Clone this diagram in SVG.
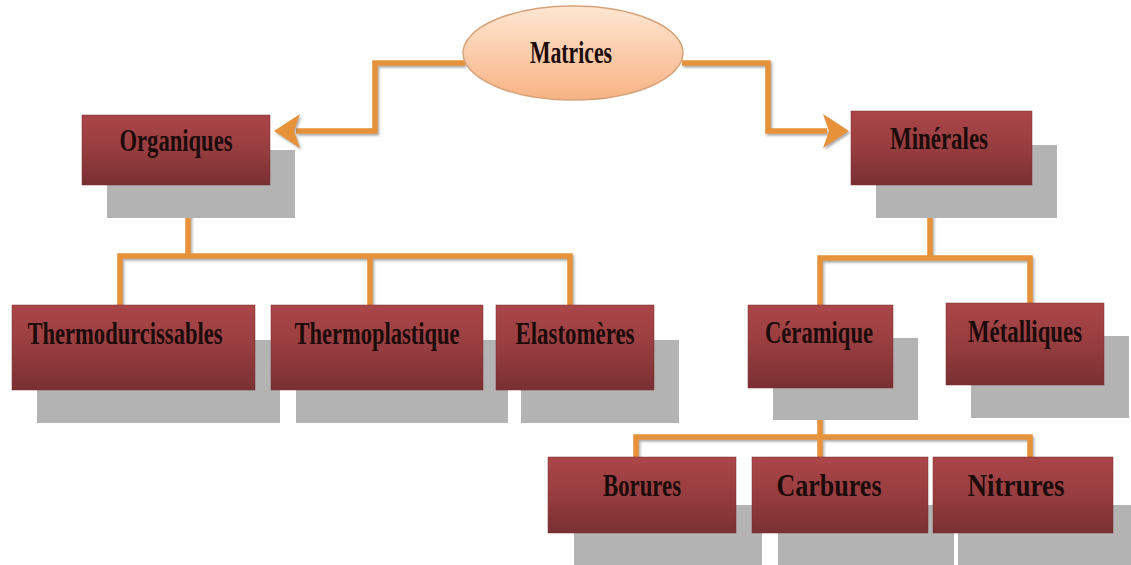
<svg xmlns="http://www.w3.org/2000/svg" width="1131" height="565" viewBox="0 0 1131 565">
<defs>
<linearGradient id="boxg" x1="0" y1="0" x2="0" y2="1">
<stop offset="0" stop-color="#ab4648"/>
<stop offset="0.5" stop-color="#973d3f"/>
<stop offset="1" stop-color="#793032"/>
</linearGradient>
<linearGradient id="ellg" x1="0" y1="0" x2="0" y2="1">
<stop offset="0" stop-color="#fee6d2"/>
<stop offset="1" stop-color="#f7b383"/>
</linearGradient>
<filter id="sh" x="-10%" y="-10%" width="130%" height="130%">
<feDropShadow dx="1.5" dy="2" stdDeviation="1" flood-color="#777" flood-opacity="0.6"/>
</filter>
</defs>
<style>
.box{fill:url(#boxg);stroke:#7a2e30;stroke-width:0.5}
.shadow{fill:#b3b3b3}
.lbl{font-family:"Liberation Serif","Times New Roman",serif;font-weight:bold;font-size:32px;fill:#1c0b0b;text-anchor:middle}
.con{fill:none;stroke:#e5923a;stroke-width:5.5;filter:url(#sh)}
.head{fill:#e5923a;filter:url(#sh)}
</style>
<rect width="1131" height="565" fill="#ffffff"/>

<g id="connectors">
<path class="con" d="M465,63 H375 V131 H296"/>
<path class="head" d="M274,131 L300,114 L294,131 L300,148 Z"/>
<path class="con" d="M682,63 H768 V131 H827"/>
<path class="head" d="M849,131 L823,114 L829,131 L823,148 Z"/>
<path class="con" d="M188,186 V256 M120,305 V256 H570 V305 M370,256 V305"/>
<path class="con" d="M930,186 V258 M820,305 V258 H1030 V305"/>
<path class="con" d="M820,389 V437 M636,458 V437 H1030 V458 M820,437 V458"/>
</g>

<g id="matrices">
<ellipse cx="573" cy="53" rx="110" ry="47" fill="url(#ellg)" stroke="#d6a27a" stroke-width="1.5"/>
<text class="lbl" x="571" y="63" textLength="82" lengthAdjust="spacingAndGlyphs">Matrices</text>
</g>

<g id="organiques">
<rect class="shadow" x="107" y="150" width="188" height="68"/>
<rect class="box" x="82" y="115" width="188" height="70"/>
<text class="lbl" x="176" y="151" textLength="113" lengthAdjust="spacingAndGlyphs">Organiques</text>
</g>

<g id="minerales">
<rect class="shadow" x="876" y="145" width="181" height="73"/>
<rect class="box" x="851" y="111" width="181" height="74"/>
<text class="lbl" x="939" y="149" textLength="98" lengthAdjust="spacingAndGlyphs">Minérales</text>
</g>

<g id="thermodurcissables">
<rect class="shadow" x="37" y="340" width="243" height="83"/>
<rect class="box" x="12" y="305" width="243" height="85"/>
<text class="lbl" x="125" y="344" textLength="195" lengthAdjust="spacingAndGlyphs">Thermodurcissables</text>
</g>

<g id="thermoplastique">
<rect class="shadow" x="296" y="340" width="212" height="83"/>
<rect class="box" x="271" y="305" width="212" height="85"/>
<text class="lbl" x="377" y="344" textLength="165" lengthAdjust="spacingAndGlyphs">Thermoplastique</text>
</g>

<g id="elastomeres">
<rect class="shadow" x="521" y="340" width="158" height="83"/>
<rect class="box" x="496" y="305" width="158" height="85"/>
<text class="lbl" x="575" y="344" textLength="119" lengthAdjust="spacingAndGlyphs">Elastomères</text>
</g>

<g id="ceramique">
<rect class="shadow" x="773" y="338" width="145" height="82"/>
<rect class="box" x="748" y="305" width="145" height="83"/>
<text class="lbl" x="819" y="343" textLength="108" lengthAdjust="spacingAndGlyphs">Céramique</text>
</g>

<g id="metalliques">
<rect class="shadow" x="971" y="336" width="158" height="82"/>
<rect class="box" x="946" y="303" width="158" height="82"/>
<text class="lbl" x="1025" y="342" textLength="114" lengthAdjust="spacingAndGlyphs">Métalliques</text>
</g>

<g id="borures">
<rect class="shadow" x="574" y="505" width="188" height="60"/>
<rect class="box" x="548" y="457" width="188" height="76"/>
<text class="lbl" x="642" y="496" textLength="78" lengthAdjust="spacingAndGlyphs">Borures</text>
</g>

<g id="carbures">
<rect class="shadow" x="778" y="505" width="176" height="60"/>
<rect class="box" x="752" y="457" width="176" height="76"/>
<text class="lbl" x="829" y="496" textLength="105" lengthAdjust="spacingAndGlyphs">Carbures</text>
</g>

<g id="nitrures">
<rect class="shadow" x="958" y="505" width="173" height="60"/>
<rect class="box" x="933" y="457" width="180" height="76"/>
<text class="lbl" x="1016" y="496" textLength="97" lengthAdjust="spacingAndGlyphs">Nitrures</text>
</g>
</svg>
